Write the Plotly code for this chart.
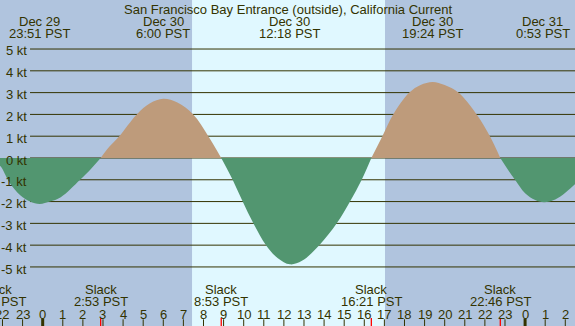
import plotly.graph_objects as go

# ---- data (hours relative to Dec 30 00:00 PST) ----
title_text = "San Francisco Bay Entrance (outside), California Current"

# maximum-current events (top labels)
max_times = [-0.15, 6.0, 12.3, 19.4, 24.883]
max_dates = ["Dec 29", "Dec 30", "Dec 30", "Dec 30", "Dec 31"]
max_labels = ["23:51 PST", "6:00 PST", "12:18 PST", "19:24 PST", "0:53 PST"]

# slack events (bottom labels)
slack_times = [-2.33, 2.883, 8.883, 16.35, 22.767]
slack_labels = ["21:40 PST", "2:53 PST", "8:53 PST", "16:21 PST", "22:46 PST"]

# current speed readings (kt), one list per ebb/flood lobe
lobe1_h = [-2.2, -2.124, -1.63, -1.13, -0.63, -0.15, 0.36, 0.9, 1.86, 2.4, 2.883]
lobe1_v = [-0.55, -0.37, -1.16, -1.7, -2.0, -2.11, -2.0, -1.8, -1.0, -0.5, 0.0]
lobe2_h = [2.883, 3.3, 3.81, 4.68, 5.34, 6.0, 6.7, 7.49, 8.24, 8.883]
lobe2_v = [0.0, 0.5, 1.0, 2.0, 2.51, 2.72, 2.55, 2.0, 1.0, 0.0]
lobe3_h = [8.883, 9.45, 9.95, 10.48, 11.11, 11.7, 12.3, 12.9, 13.76, 14.63, 15.29, 15.87, 16.35]
lobe3_v = [0.0, -1.0, -2.0, -3.0, -4.0, -4.6, -4.88, -4.72, -4.0, -3.0, -2.0, -1.0, 0.0]
lobe4_h = [16.35, 16.9, 17.44, 18.24, 18.8, 19.4, 20.0, 20.68, 21.59, 22.25, 22.767]
lobe4_v = [0.0, 1.0, 2.0, 3.0, 3.35, 3.49, 3.35, 3.0, 2.0, 1.0, 0.0]
lobe5_h = [22.767, 23.25, 23.5, 24.0, 24.5, 24.95, 25.5, 26.0, 26.48, 26.6]
lobe5_v = [0.0, -0.68, -1.0, -1.62, -1.93, -2.03, -1.9, -1.59, -1.2, -1.1]

sunrise, sunset = 7.43, 17.03
speed_ticks = [5, 4, 3, 2, 1, 0, -1, -2, -3, -4, -5]
hour_ticks = list(range(-2, 27))

# ---- styles ----
NIGHT = "#B0C4DE"
DAY = "#E0F8FF"
FLOOD = "#BE9B7B"
EBB = "#529670"
INK = "#333300"
FONT = "Liberation Sans, Arial, sans-serif"
W, H = 575, 326
X0, X1 = -2.124, 26.483
Y0, Y1 = -7.71, 7.25
DY = 2.0  # vertical text nudge (px)


def py(pix):
    return 1 - (pix + DY) / H


def pyt(pix):
    return 1 - pix / H


def px(hour):
    return (hour - X0) / (X1 - X0)


fig = go.Figure()

for hs, vs in [(lobe1_h, lobe1_v), (lobe2_h, lobe2_v), (lobe3_h, lobe3_v),
               (lobe4_h, lobe4_v), (lobe5_h, lobe5_v)]:
    col = FLOOD if max(vs) > 0 else EBB
    fig.add_trace(go.Scatter(x=hs, y=vs, mode="lines", line=dict(width=0, shape="spline", color=col),
                             fill="tozeroy", fillcolor=col, hoverinfo="skip", showlegend=False))

shapes = [dict(type="rect", xref="x", yref="paper", x0=sunrise, x1=sunset, y0=0, y1=1,
               fillcolor=DAY, line=dict(width=0), layer="below")]
grid_x0 = -0.63
for k in speed_ticks:
    shapes.append(dict(type="line", xref="x", yref="y", x0=grid_x0, x1=X1 + 1, y0=k, y1=k,
                       line=dict(color=INK, width=1), layer="below"))

# hour tick marks
for h in hour_ticks:
    if h % 24 == 0:
        shapes.append(dict(type="line", xref="x", yref="paper", x0=h, x1=h, y0=pyt(318.3), y1=0,
                           line=dict(color=INK, width=3)))
    else:
        shapes.append(dict(type="line", xref="x", yref="paper", x0=h, x1=h, y0=pyt(319.3), y1=0,
                           line=dict(color=INK, width=1)))
for t in slack_times:
    shapes.append(dict(type="line", xref="x", yref="paper", x0=t, x1=t, y0=pyt(318), y1=0,
                       line=dict(color="#FF0000", width=1.3)))

ann = []
fs = 13


def label(hour, ypix, text):
    ann.append(dict(x=px(hour), y=py(ypix), xref="paper", yref="paper", text=text, showarrow=False,
                    font=dict(family=FONT, size=fs, color=INK), xanchor="center", yanchor="middle"))


label((X0 + X1) / 2, 7.5, title_text)
for t, d, l in zip(max_times, max_dates, max_labels):
    label(t, 19.5, d)
    label(t, 31.3, l)
for t, l in zip(slack_times, slack_labels):
    label(t, 287.7, "Slack")
    label(t, 299.5, l)
for h in hour_ticks:
    label(h, 312, str(h % 24))
for k in speed_ticks:
    ann.append(dict(x=px(-0.68), y=py(158 - 21.8 * k), xref="paper", yref="paper", text=f"{k} kt",
                    showarrow=False, font=dict(family=FONT, size=13, color=INK),
                    xanchor="right", yanchor="middle"))

fig.update_layout(
    width=W, height=H, autosize=False,
    margin=dict(l=0, r=0, t=0, b=0, pad=0),
    paper_bgcolor=NIGHT, plot_bgcolor=NIGHT,
    xaxis=dict(range=[X0, X1], visible=False, fixedrange=True),
    yaxis=dict(range=[Y0, Y1], visible=False, fixedrange=True),
    shapes=shapes, annotations=ann, showlegend=False,
)

fig.write_html("out.html", config={"displayModeBar": False, "staticPlot": True},
               post_script="document.body.style.margin='0px';document.body.style.padding='0px';"
                           "document.body.style.overflow='hidden';")
